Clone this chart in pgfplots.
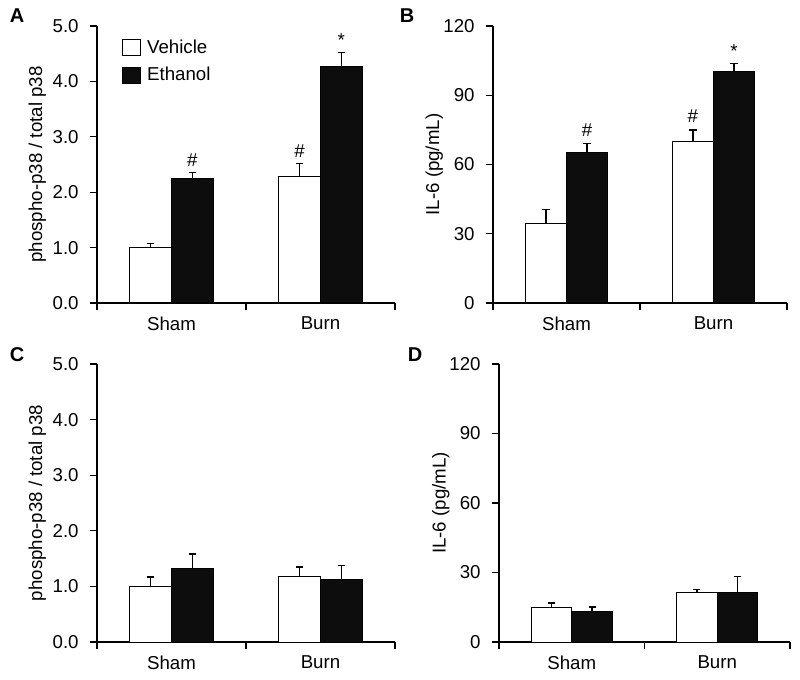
\documentclass[border=0pt]{standalone}
\usepackage{fontspec}
\setmainfont{Liberation Sans}
\usepackage{pgfplots}
\pgfplotsset{compat=1.18}
\usepackage{pgfplotstable}

% x: 0 = Sham, 1 = Burn
\pgfplotstableread{
x  veh  vehe  eth  ethe
0  1.00 0.07  2.24 0.11
1  2.29 0.23  4.27 0.25
}\dataA
\pgfplotstableread{
x  veh   vehe  eth   ethe
0  34.4  6.2   65.1  4.1
1  69.9  5.0   100.1 3.6
}\dataB
\pgfplotstableread{
x  veh  vehe  eth  ethe
0  1.00 0.17  1.33 0.25
1  1.18 0.17  1.12 0.26
}\dataC
\pgfplotstableread{
x  veh   vehe  eth   ethe
0  15.0  1.9   13.3  1.8
1  21.2  1.4   21.2  7.2
}\dataD

\newcommand{\lblfont}{\fontsize{14}{16.8}\selectfont}

\pgfplotsset{
  panel/.style={
    scale only axis,
    axis x line*=bottom, axis y line*=left,
    axis line style={line width=0.8pt, black},
    every tick/.style={line width=0.8pt, black},
    tick align=outside,
    major tick length=5.25pt,
    xmin=-0.5, xmax=1.5,
    xtick={-0.5,0.5,1.5}, xticklabels={},
    extra x ticks={0,1}, extra x tick labels={Sham,Burn},
    extra x tick style={major tick length=0pt, xticklabel style={yshift=-7pt}},
    ymin=0,
    ybar, bar width=0.28,
    /pgf/number format/assume math mode=true,
    tick label style={font=\lblfont, black},
    yticklabel style={xshift=-5pt},
    label style={font=\lblfont, black},
    ylabel style={at={(axis description cs:-0.2,0.5)}, anchor=center},
    clip=false,
  },
  veh/.style={fill=white, draw=black, line width=0.75pt, bar shift=-0.14,
    error bars/.cd, y dir=plus, y explicit,
    error bar style={line width=1pt, black},
    error mark options={rotate=90, line width=1pt, black, mark size=2.7pt}},
  eth/.style={fill=black!95, draw=black, line width=0.75pt, bar shift=0.14,
    error bars/.cd, y dir=plus, y explicit,
    error bar style={line width=1pt, black},
    error mark options={rotate=90, line width=1pt, black, mark size=2.7pt}},
}

\begin{document}
\begin{tikzpicture}
\useasboundingbox (0,0) rectangle (600pt,509.25pt);

% Panel A
\begin{axis}[panel,
  at={(72.75pt,282pt)}, anchor=south west,
  width=223.5pt, height=207.75pt,
  ymax=5, ytick={0,1,2,3,4,5},
  yticklabel style={/pgf/number format/.cd, fixed, fixed zerofill, precision=1},
  ylabel={phospho-p38 / total p38},
  legend style={at={(axis description cs:0.083,0.961)}, anchor=north west,
    draw=none, fill=none, inner sep=0pt, row sep=5pt,
    font=\lblfont},
  legend cell align=left,
  legend image code/.code={\draw[#1, line width=0.75pt] (0pt,-6pt) rectangle (13.5pt,6pt);
    \path[draw=none, fill=none] (0pt,-0.1pt) rectangle (16.5pt,0.1pt);},
]
\addplot[veh] table[x=x, y=veh, y error=vehe] {\dataA};
\addplot[eth] table[x=x, y=eth, y error=ethe] {\dataA};
\legend{Vehicle, Ethanol}
\node[anchor=south, font=\lblfont] at (axis cs:0.14,2.37) {\#};
\node[anchor=south, font=\lblfont] at (axis cs:0.86,2.54) {\#};
\node[anchor=south, font=\lblfont] at (axis cs:1.14,4.54) {*};
\end{axis}

% Panel B
\begin{axis}[panel,
  at={(369.75pt,282pt)}, anchor=south west,
  width=220.5pt, height=207.75pt,
  ymax=120, ytick={0,30,60,90,120},
  ylabel={IL-6 (pg/mL)},
]
\addplot[veh] table[x=x, y=veh, y error=vehe] {\dataB};
\addplot[eth] table[x=x, y=eth, y error=ethe] {\dataB};
\node[anchor=south, font=\lblfont] at (axis cs:0.14,70) {\#};
\node[anchor=south, font=\lblfont] at (axis cs:0.86,76) {\#};
\node[anchor=south, font=\lblfont] at (axis cs:1.14,104.5) {*};
\end{axis}

% Panel C
\begin{axis}[panel,
  at={(72.75pt,27.75pt)}, anchor=south west,
  width=223.5pt, height=208.5pt,
  ymax=5, ytick={0,1,2,3,4,5},
  yticklabel style={/pgf/number format/.cd, fixed, fixed zerofill, precision=1},
  ylabel={phospho-p38 / total p38},
]
\addplot[veh] table[x=x, y=veh, y error=vehe] {\dataC};
\addplot[eth] table[x=x, y=eth, y error=ethe] {\dataC};
\end{axis}

% Panel D
\begin{axis}[panel,
  at={(374.25pt,27.75pt)}, anchor=south west,
  width=218.25pt, height=208.5pt,
  ymax=120, ytick={0,30,60,90,120},
  ylabel={IL-6 (pg/mL)},
]
\addplot[veh] table[x=x, y=veh, y error=vehe] {\dataD};
\addplot[eth] table[x=x, y=eth, y error=ethe] {\dataD};
\end{axis}

\node[font=\bfseries\fontsize{15}{18}\selectfont] at (12.75pt,497.25pt) {A};
\node[font=\bfseries\fontsize{15}{18}\selectfont] at (305.25pt,497.25pt) {B};
\node[font=\bfseries\fontsize{15}{18}\selectfont] at (12.75pt,243pt) {C};
\node[font=\bfseries\fontsize{15}{18}\selectfont] at (311.25pt,243pt) {D};
\end{tikzpicture}
\end{document}
